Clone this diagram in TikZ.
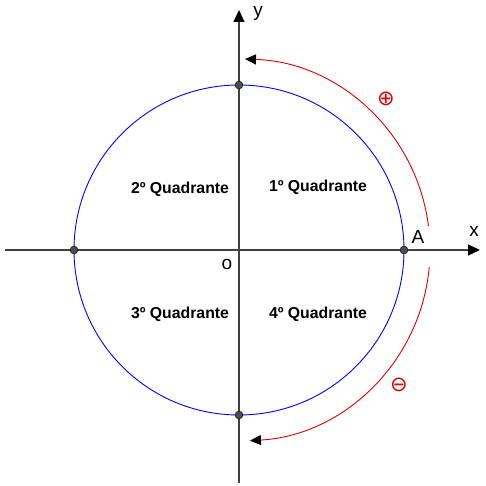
\documentclass[tikz,border=0pt]{standalone}
\usepackage{fontspec}
\setmainfont{Liberation Sans}
\newfontfamily\symfont{DejaVu Sans}
\usetikzlibrary{arrows.meta}
\begin{document}
\begin{tikzpicture}[x=1pt,y=1pt,
  axis/.style={draw=black!75,line width=1.1pt,-{Triangle[length=12pt,width=11pt,black]}},
  quad/.style={font=\bfseries\fontsize{15.8}{18}\selectfont,inner sep=0pt},
  lbl/.style={font=\fontsize{19}{21}\selectfont,inner sep=0pt},
  dot/.style={circle,fill=black!70,draw=black,line width=0.4pt,inner sep=0pt,minimum size=8pt},
  sense/.style={red!85!black,line width=0.9pt,-{Triangle[length=11pt,width=10pt,black]}},
  sgn/.style={text=red!85!black,font=\symfont\fontsize{21}{23}\selectfont,inner sep=0pt}]
\useasboundingbox (-239,-236) rectangle (247,250);
\coordinate (O) at (0,0);
\coordinate (xs) at (-234,0);
\coordinate (xe) at (241,0);
\coordinate (ys) at (0,-233);
\coordinate (ye) at (0,240);
\draw[blue,line width=0.9pt] (O) circle[radius=165];
\draw[axis] (xs) -- (xe);
\draw[axis] (ys) -- (ye);
\node[dot] (pA) at (165,0) {};
\node[dot] (pB) at (0,165) {};
\node[dot] (pC) at (-165,0) {};
\node[dot] (pD) at (0,-165) {};
\draw[sense] (7.2:191) arc[start angle=7.2,end angle=88.2,radius=191];
\draw[sense] (-5.1:191) arc[start angle=-5.1,end angle=-86.7,radius=191];
\node[lbl] (ly) at (19,237) {y};
\node[lbl] (lx) at (235,19) {x};
\node[lbl] (lA) at (179,13) {A};
\node[lbl] (lo) at (-12,-14) {o};
\node[quad] (q1) at (79,63) {1º Quadrante};
\node[quad] (q2) at (-59,61) {2º Quadrante};
\node[quad] (q3) at (-59,-64) {3º Quadrante};
\node[quad] (q4) at (79,-64) {4º Quadrante};
\node[sgn] (plus) at (147,151) {⊕};
\node[sgn] (minus) at (160,-135) {⊖};
\end{tikzpicture}
\end{document}
